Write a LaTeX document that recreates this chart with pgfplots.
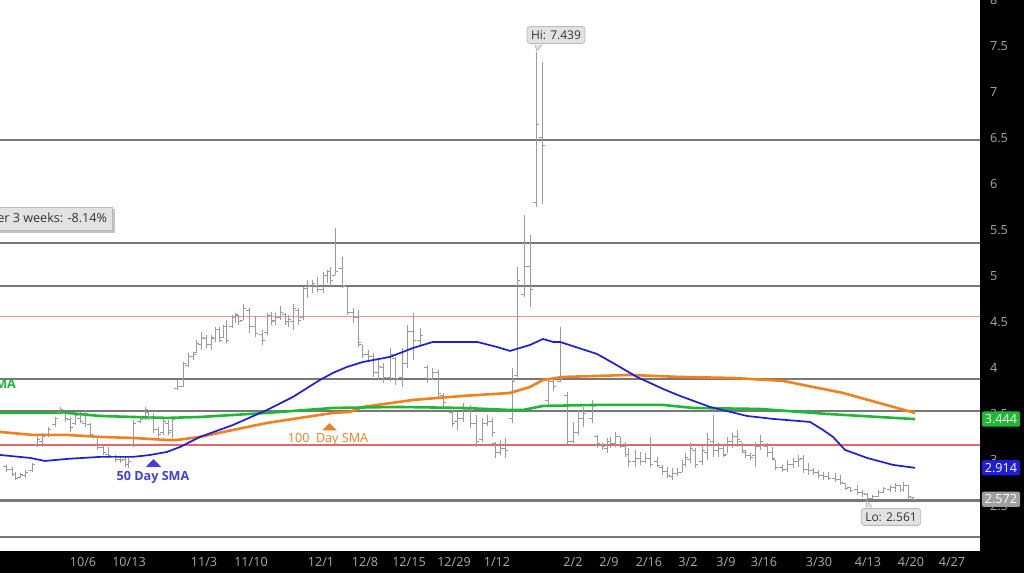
\documentclass[border=0pt]{standalone}
\usepackage{fontspec}
\setmainfont{Open Sans}
\usepackage{pgfplots}
\usepackage{pgfplotstable}
\pgfplotsset{compat=1.18}
\usetikzlibrary{shadows}
\definecolor{barc}{RGB}{155,155,155}
\definecolor{hline}{RGB}{120,120,120}
\definecolor{redl}{RGB}{225,105,105}
\definecolor{redt}{RGB}{240,150,150}
\definecolor{smablue}{RGB}{30,30,215}
\definecolor{smaorange}{RGB}{242,128,30}
\definecolor{smagreen}{RGB}{30,185,50}
\definecolor{ticktext}{RGB}{170,170,170}
\definecolor{boxfill}{RGB}{226,226,226}
\pgfdeclareplotmark{ohlcopen}{\pgfpathmoveto{\pgfqpoint{-\pgfplotmarksize}{0pt}}\pgfpathlineto{\pgfqpoint{0pt}{0pt}}\pgfusepathqstroke}
\pgfdeclareplotmark{ohlcclose}{\pgfpathmoveto{\pgfqpoint{0pt}{0pt}}\pgfpathlineto{\pgfqpoint{\pgfplotmarksize}{0pt}}\pgfusepathqstroke}

\pgfplotstableread{
x l h o c
6 2.87 2.95 2.93 2.90
12 2.82 2.92 2.90 2.84
15 2.78 2.87 2.84 2.80
20 2.80 2.86 2.81 2.84
25 2.80 2.89 2.83 2.86
32 2.87 2.97 2.88 2.95
37 3.14 3.27 3.16 3.22
42 3.14 3.29 3.20 3.25
48 3.25 3.36 3.27 3.33
55 3.36 3.47 3.38 3.45
60 3.50 3.58 3.52 3.55
65 3.41 3.52 3.50 3.45
70 3.30 3.47 3.44 3.35
75 3.38 3.52 3.40 3.48
80 3.40 3.52 3.45 3.42
85 3.36 3.54 3.40 3.50
90 3.25 3.40 3.38 3.28
97 3.11 3.25 3.24 3.14
103 3.05 3.16 3.13 3.08
108 3.02 3.14 3.06 3.05
115 2.98 3.05 3.03 3.00
120 2.97 3.03 3.01 2.99
125 2.92 3.03 3.00 2.95
128 2.91 3.02 2.95 2.98
133 3.14 3.43 3.16 3.40
140 3.40 3.47 3.42 3.44
145 3.43 3.58 3.45 3.55
148 3.43 3.54 3.52 3.47
153 3.29 3.51 3.46 3.33
158 3.25 3.36 3.33 3.28
163 3.27 3.46 3.30 3.42
168 3.27 3.43 3.40 3.30
172 3.24 3.47 3.32 3.44
177 3.76 3.87 3.78 3.80
183 3.79 4.07 3.80 4.05
188 4.01 4.16 4.03 4.12
193 4.09 4.17 4.12 4.15
196 4.16 4.30 4.17 4.27
201 4.20 4.39 4.25 4.33
206 4.22 4.36 4.32 4.25
211 4.20 4.36 4.26 4.33
215 4.28 4.44 4.32 4.42
219 4.28 4.44 4.42 4.30
223 4.33 4.47 4.33 4.45
226 4.27 4.52 4.45 4.30
232 4.43 4.58 4.45 4.55
235 4.49 4.60 4.55 4.58
238 4.47 4.58 4.57 4.50
243 4.52 4.69 4.52 4.65
249 4.38 4.65 4.62 4.45
255 4.34 4.56 4.45 4.37
262 4.25 4.41 4.36 4.30
267 4.36 4.60 4.38 4.57
271 4.47 4.61 4.57 4.50
275 4.47 4.60 4.52 4.55
280 4.52 4.67 4.55 4.60
285 4.47 4.60 4.58 4.50
288 4.45 4.58 4.50 4.53
293 4.41 4.69 4.50 4.65
298 4.47 4.65 4.62 4.52
303 4.52 4.88 4.55 4.86
307 4.76 4.96 4.86 4.88
312 4.82 4.96 4.88 4.92
317 4.83 4.99 4.90 4.85
323 4.82 5.04 4.85 5.00
327 4.92 5.07 5.00 5.05
330 4.88 5.10 5.05 4.95
335 5.01 5.52 5.00 5.05
342 4.87 5.21 5.08 4.90
347 4.58 4.88 4.88 4.60
353 4.49 4.65 4.60 4.55
358 4.23 4.63 4.55 4.28
362 4.11 4.25 4.25 4.15
368 4.09 4.20 4.15 4.12
373 3.90 4.16 4.12 3.95
378 3.87 4.11 3.95 4.02
383 3.84 4.05 4.00 3.90
390 3.86 4.22 3.90 4.15
395 3.82 4.12 4.10 3.88
402 3.79 4.22 3.90 4.05
407 4.00 4.47 4.05 4.40
413 4.09 4.60 4.40 4.30
420 4.25 4.43 4.30 4.35
427 3.84 4.03 4.00 3.88
432 3.87 4.00 3.88 3.95
438 3.68 3.98 3.95 3.72
443 3.58 3.73 3.70 3.62
452 3.36 3.54 3.52 3.40
457 3.33 3.52 3.42 3.45
463 3.41 3.62 3.45 3.55
470 3.35 3.60 3.55 3.40
476 3.14 3.49 3.40 3.20
482 3.20 3.46 3.22 3.40
487 3.37 3.49 3.40 3.42
492 3.25 3.46 3.42 3.30
495 3.02 3.20 3.18 3.08
500 3.05 3.22 3.08 3.12
505 3.02 3.24 3.12 3.10
512 3.40 4.00 3.45 3.85
517 3.90 5.10 3.92 4.95
524 4.77 5.66 4.80 5.10
530 4.66 5.45 5.10 4.85
536 5.75 7.44 5.80 6.65
542 5.78 7.33 6.50 6.42
548 3.60 3.89 3.65 3.85
553 3.75 3.90 3.85 3.80
560 3.85 4.45 3.85 3.88
567 3.16 3.74 3.70 3.20
573 3.18 3.41 3.20 3.30
578 3.27 3.54 3.30 3.45
583 3.36 3.57 3.45 3.50
592 3.40 3.65 3.45 3.58
597 3.13 3.27 3.25 3.18
602 3.11 3.18 3.17 3.15
607 3.08 3.24 3.12 3.20
610 3.13 3.25 3.20 3.18
615 3.14 3.30 3.18 3.25
620 3.13 3.25 3.25 3.15
625 3.03 3.19 3.15 3.06
628 2.92 3.13 3.06 2.98
635 2.92 3.11 2.98 3.02
640 2.94 3.09 3.02 2.98
645 2.97 3.08 2.98 3.02
650 2.92 3.25 3.02 2.95
657 2.92 3.03 2.98 2.94
662 2.84 2.95 2.92 2.87
667 2.80 2.92 2.87 2.83
672 2.78 2.91 2.82 2.85
677 2.82 2.91 2.85 2.86
682 2.87 3.00 2.86 2.95
685 2.92 3.08 2.95 3.03
690 2.97 3.18 3.00 3.12
695 2.91 3.13 3.10 2.95
702 2.95 3.16 2.98 3.10
707 3.00 3.29 3.08 3.22
713 3.03 3.49 3.20 3.10
718 3.03 3.18 3.10 3.12
723 3.03 3.16 3.12 3.05
727 3.08 3.25 3.06 3.20
732 3.13 3.29 3.20 3.25
737 3.14 3.33 3.25 3.22
742 3.08 3.18 3.20 3.10
745 3.02 3.11 3.08 3.05
750 3.00 3.08 3.05 3.03
755 2.92 3.20 3.05 3.15
760 3.11 3.27 3.15 3.20
767 3.03 3.18 3.15 3.08
772 3.00 3.14 3.08 3.02
775 2.89 3.00 3.00 2.92
782 2.87 2.95 2.92 2.90
787 2.87 3.00 2.90 2.95
793 2.91 3.02 2.95 2.98
798 2.92 3.05 2.98 3.00
803 2.86 3.05 3.02 2.90
808 2.84 2.97 2.90 2.88
813 2.84 2.91 2.88 2.86
818 2.80 2.89 2.86 2.83
823 2.78 2.87 2.83 2.82
828 2.78 2.87 2.82 2.80
835 2.76 2.86 2.80 2.79
840 2.73 2.84 2.79 2.76
845 2.67 2.75 2.74 2.69
850 2.65 2.71 2.70 2.67
857 2.62 2.73 2.68 2.65
862 2.60 2.67 2.65 2.63
867 2.561 2.64 2.62 2.58
872 2.57 2.62 2.58 2.60
878 2.60 2.67 2.60 2.65
883 2.64 2.71 2.65 2.69
890 2.65 2.73 2.68 2.70
895 2.65 2.75 2.70 2.72
900 2.65 2.73 2.72 2.68
903 2.65 2.76 2.68 2.72
908 2.57 2.73 2.72 2.60
913 2.565 2.60 2.59 2.572
}\bars

\pgfplotstableread{
x y
0 3.054
30 3.022
45 2.989
67 3.011
100 3.033
133 3.033
150 3.054
167 3.087
180 3.141
200 3.250
233 3.380
267 3.543
293 3.685
320 3.870
333 3.946
347 4.011
363 4.065
390 4.120
413 4.217
433 4.283
463 4.283
477 4.283
497 4.228
510 4.185
530 4.250
543 4.315
553 4.283
560 4.283
597 4.152
613 4.054
637 3.902
663 3.772
680 3.696
710 3.576
747 3.478
773 3.446
810 3.413
823 3.326
833 3.250
845 3.109
867 3.022
893 2.946
915 2.914
}\smafifty

\pgfplotstableread{
x y
0 3.304
33 3.272
67 3.272
100 3.250
133 3.239
167 3.217
177 3.217
200 3.250
233 3.326
267 3.402
300 3.457
333 3.511
350 3.522
363 3.576
413 3.652
463 3.696
510 3.728
530 3.793
543 3.870
563 3.902
630 3.924
680 3.902
733 3.891
783 3.859
843 3.728
915 3.511
}\smahundred

\pgfplotstableread{
x y
0 3.511
67 3.511
100 3.478
133 3.467
167 3.457
200 3.467
267 3.511
333 3.565
397 3.576
463 3.565
510 3.543
523 3.543
543 3.587
597 3.598
663 3.598
693 3.565
760 3.554
827 3.500
915 3.444
}\smatwohundred

\begin{document}
\begin{tikzpicture}
\useasboundingbox (0,0) rectangle (512pt,286.5pt);
\fill[black] (0,0) rectangle (512pt,286.5pt);
\begin{scope}
\clip (0,0) rectangle (512pt,286.5pt);
\begin{axis}[
  at={(0pt,11pt)}, anchor=south west,
  scale only axis, width=490pt, height=275.5pt,
  xmin=0, xmax=980, ymin=2.01, ymax=8,
  axis line style={draw=none},
  axis background/.style={fill=white},
  clip=false,
  major tick length=0pt,
  ytick={2,2.5,3,3.5,4,4.5,5,5.5,6,6.5,7,7.5,8},
  yticklabel pos=right,
  yticklabels={2,2.5,3,3.5,4,4.5,5,5.5,6,6.5,7,7.5,8},
  yticklabel style={anchor=west, xshift=1.5pt, text=ticktext, font=\fontsize{6.3}{7.5}\selectfont},
  xtick={83,129,204,251,321,365,409,454,497,573,609,649,688,726,764,819,868,911,952},
  xticklabels={10/6,10/13,11/3,11/10,12/1,12/8,12/15,12/29,1/12,2/2,2/9,2/16,3/2,3/9,3/16,3/30,4/13,4/20,4/27},
  xticklabel style={anchor=center, yshift=-5.5pt, text=ticktext, font=\fontsize{6.3}{7.5}\selectfont},
  /pgf/number format/assume math mode=true,
]
% horizontal levels
\addplot[hline, line width=1.2pt] coordinates {(0,6.48) (980,6.48)};
\addplot[hline, line width=1.2pt] coordinates {(0,5.36) (980,5.36)};
\addplot[hline, line width=1.2pt] coordinates {(0,4.89) (980,4.89)};
\addplot[redt, line width=0.45pt] coordinates {(0,4.56) (980,4.56)};
\addplot[hline, line width=1.2pt] coordinates {(0,3.88) (980,3.88)};
\addplot[hline, line width=1.2pt] coordinates {(0,3.53) (980,3.53)};
\addplot[redl, line width=0.9pt] coordinates {(0,3.16) (980,3.16)};
\addplot[hline, line width=1.2pt] coordinates {(0,2.56) (980,2.56)};
\addplot[hline, line width=1.2pt] coordinates {(0,2.16) (980,2.16)};
% OHLC bars
\addplot[barc, line width=0.5pt, no markers, quiver={u=0, v=\thisrow{h}-\thisrow{l}}] table[x=x, y=l] {\bars};
\addplot[barc, line width=0.5pt, only marks, mark=ohlcopen, mark size=1.5pt] table[x=x, y=o] {\bars};
\addplot[barc, line width=0.5pt, only marks, mark=ohlcclose, mark size=1.5pt] table[x=x, y=c] {\bars};
% moving averages
\addplot[smaorange, line width=1.3pt, no markers] table[x=x, y=y] {\smahundred};
\addplot[smagreen, line width=1.3pt, no markers] table[x=x, y=y] {\smatwohundred};
\addplot[smablue, line width=0.85pt, no markers] table[x=x, y=y] {\smafifty};
% annotations
\node[anchor=east, fill=boxfill, draw=gray!55, drop shadow={shadow xshift=1.2pt, shadow yshift=-1.2pt, opacity=0.45}, inner sep=2.8pt, font=\fontsize{6.3}{7.5}\selectfont, text=black!80] at (axis cs:113,5.62) {Change over 3 weeks: -8.14\%};
\filldraw[fill=boxfill, draw=gray!55, line width=0.4pt] (axis cs:535,7.515) -- (axis cs:537,7.445) -- (axis cs:542,7.515);
\node[fill=boxfill, draw=gray!55, rounded corners=1.5pt, inner sep=2pt, font=\fontsize{6}{7}\selectfont, text=black!80] at (axis cs:556,7.62) {Hi: 7.439};
\filldraw[fill=boxfill, draw=gray!55, line width=0.4pt] (axis cs:866,2.485) -- (axis cs:867,2.555) -- (axis cs:872,2.485);
\node[fill=boxfill, draw=gray!55, rounded corners=1.5pt, inner sep=2pt, font=\fontsize{6}{7}\selectfont, text=black!80] at (axis cs:891,2.38) {Lo: 2.561};
\fill[smablue!85] (axis cs:146,2.925) -- (axis cs:161,2.925) -- (axis cs:153.5,3.01) -- cycle;
\node[text=smablue!85, font=\bfseries\fontsize{6.3}{7.5}\selectfont] at (axis cs:153,2.815) {50 Day SMA};
\fill[smaorange] (axis cs:322,3.32) -- (axis cs:337,3.32) -- (axis cs:329.5,3.40) -- cycle;
\node[text=smaorange, font=\fontsize{6.3}{7.5}\selectfont] at (axis cs:328,3.22) {100\ \ Day SMA};
\node[anchor=east, text=smagreen, font=\bfseries\fontsize{6.3}{7.5}\selectfont] at (axis cs:23,3.815) {200 Day SMA};
% last value boxes
\node[fill=smagreen, rounded corners=1pt, inner sep=1.5pt, minimum width=18pt, text=white, font=\fontsize{6.3}{7.5}\selectfont] at (axis cs:1001,3.444) {3.444};
\node[fill=smablue, rounded corners=1pt, inner sep=1.5pt, minimum width=18pt, text=white, font=\fontsize{6.3}{7.5}\selectfont] at (axis cs:1001,2.914) {2.914};
\node[fill=gray!75, rounded corners=1pt, inner sep=1.5pt, minimum width=18pt, text=white, font=\fontsize{6.3}{7.5}\selectfont] at (axis cs:1001,2.572) {2.572};
\end{axis}
\end{scope}
\end{tikzpicture}
\end{document}
